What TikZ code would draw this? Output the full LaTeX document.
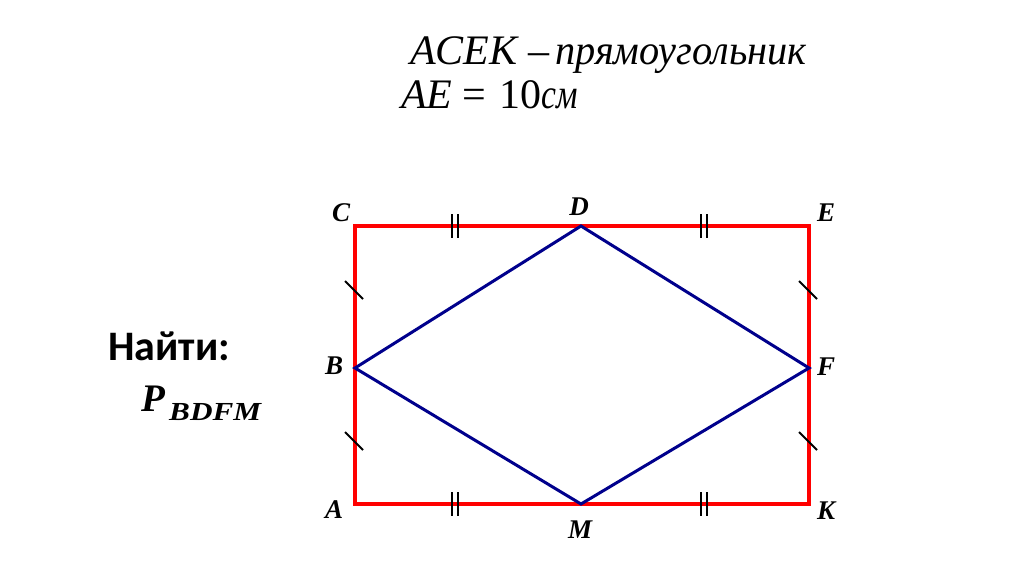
\documentclass[tikz,border=0pt]{standalone}
\usepackage{fontspec}
\setmainfont{Liberation Serif}
\newfontfamily\calibri{Carlito}
\tikzset{
  rect/.style={draw=red, line width=4pt},
  rhomb/.style={draw={rgb,255:red,0;green,0;blue,140}, line width=3pt, line join=miter},
  tick/.style={draw=black, line width=2pt},
  lbl/.style={font=\fontsize{27}{30}\selectfont\bfseries\itshape, inner sep=0pt},
  txt/.style={anchor=base west, inner sep=0pt, font=\fontsize{42}{44}\selectfont},
}
\begin{document}
\begin{tikzpicture}[x=1pt,y=-1pt]
\useasboundingbox (0,0) rectangle (1024,574);
% points
\coordinate (A) at (355,504);
\coordinate (C) at (355,226);
\coordinate (E) at (809,226);
\coordinate (K) at (809,504);
\coordinate (D) at (581,226);
\coordinate (M) at (581,504);
\coordinate (B) at (355,368);
\coordinate (F) at (809,368);
% rectangle
\draw[rect] (A) -- (C) -- (E) -- (K) -- cycle;
% rhombus
\draw[rhomb] (B) -- (D) -- (F) -- (M) -- cycle;
% single ticks
\foreach \y in {290,441}{
  \draw[tick] (345,\y-9) -- (363,\y+9);
  \draw[tick] (799,\y-9) -- (817,\y+9);
}
% double ticks
\foreach \x in {455,704}{
  \foreach \yy in {226,504}{
    \draw[tick] (\x-3,\yy-12) -- (\x-3,\yy+12);
    \draw[tick] (\x+3,\yy-12) -- (\x+3,\yy+12);
  }
}
% labels
\node[lbl] (lC) at (341,213) {C};
\node[lbl] (lD) at (579,207) {D};
\node[lbl] (lE) at (826,213) {E};
\node[lbl] (lB) at (334,366) {B};
\node[lbl] (lF) at (826,367) {F};
\node[lbl] (lA) at (334,510) {A};
\node[lbl] (lK) at (826,511) {K};
\node[lbl] (lM) at (580,530) {M};
% top text
\node[txt] (t1a) at (410,64) {\itshape ACEK};
\node[txt] (t1b) at (528,64) {--};
\node[txt] (t1c) at (555,64) {\scalebox{0.96}[1]{\itshape прямоугольник}};
\node[txt] (t2a) at (401,108) {\itshape AE};
\node[txt] (t2b) at (462,108) {=};
\node[txt] (t2c) at (499,108) {10\scalebox{0.8}[1]{\itshape см}};
% Find
\node[anchor=base west, inner sep=0pt, font=\calibri\fontsize{42}{44}\selectfont\bfseries] (find) at (108,360) {Найти:};
\node[anchor=base west, inner sep=0pt, font=\fontsize{39}{40}\selectfont\bfseries\itshape] (P) at (141,411) {P};
\node[anchor=base west, inner sep=0pt, font=\fontsize{26}{28}\selectfont\bfseries\itshape] (sub) at (169,420) {\scalebox{1.2}[1]{BDFM}};
\end{tikzpicture}
\end{document}
